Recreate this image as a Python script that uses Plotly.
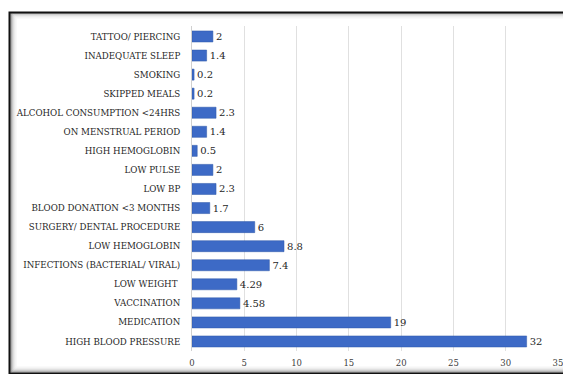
import plotly.graph_objects as go

categories = [
    "TATTOO/ PIERCING", "INADEQUATE SLEEP", "SMOKING", "SKIPPED MEALS",
    "ALCOHOL CONSUMPTION <24HRS", "ON MENSTRUAL PERIOD", "HIGH HEMOGLOBIN",
    "LOW PULSE", "LOW BP", "BLOOD DONATION <3 MONTHS",
    "SURGERY/ DENTAL PROCEDURE", "LOW HEMOGLOBIN",
    "INFECTIONS (BACTERIAL/ VIRAL)", "LOW WEIGHT ", "VACCINATION",
    "MEDICATION", "HIGH BLOOD PRESSURE",
]
values = [2, 1.4, 0.2, 0.2, 2.3, 1.4, 0.5, 2, 2.3, 1.7, 6, 8.8, 7.4, 4.29, 4.58, 19, 32]
value_labels = ["2", "1.4", "0.2", "0.2", "2.3", "1.4", "0.5", "2", "2.3", "1.7",
                "6", "8.8", "7.4", "4.29", "4.58", "19", "32"]
x_ticks = [0, 5, 10, 15, 20, 25, 30, 35]

SERIF = "DejaVu Serif"

W, H = 563, 374
L, R, T, B = 192, 5, 26, 23
pw, ph = W - L - R, H - T - B

def px(x):
    return (x - L) / pw

def py(y):
    return (H - B - y) / ph

fig = go.Figure()
fig.add_trace(go.Bar(
    y=categories, x=values, orientation="h",
    marker=dict(color="#3d6ac6", line=dict(color="#2f58a8", width=0.5)),
    width=0.58,
    text=value_labels, textposition="outside", constraintext="none",
    textfont=dict(family=SERIF, size=10, color="#262626"),
    cliponaxis=False,
))

shapes = []
for i, c in enumerate(["#7a7a7a", "#a8a8a8", "#c8c8c8", "#dedede", "#ececec", "#f5f5f5"]):
    off = 11 + i
    shapes.append(dict(type="rect", xref="paper", yref="paper",
                       x0=px(off), x1=px(W + 20), y0=py(off + 2), y1=py(H - 2 - i),
                       line=dict(color=c, width=1.2), fillcolor="rgba(0,0,0,0)", layer="below"))
shapes.append(dict(type="rect", xref="paper", yref="paper",
                   x0=px(9.5), x1=px(W + 20), y0=py(12.5), y1=py(H - 0.5),
                   line=dict(color="#111111", width=2), fillcolor="rgba(0,0,0,0)", layer="below"))

fig.update_layout(
    width=W, height=H,
    margin=dict(l=L, r=R, t=T, b=B, pad=0, autoexpand=False),
    paper_bgcolor="white", plot_bgcolor="white",
    showlegend=False,
    shapes=shapes,
    font=dict(family=SERIF, color="#333333"),
    bargap=0.4,
)
fig.update_xaxes(
    range=[0, 35], tickvals=x_ticks, ticktext=[str(v) for v in x_ticks],
    showgrid=True, gridcolor="#e0e0e0", gridwidth=1,
    zeroline=False, showline=False, automargin=False,
    tickfont=dict(family=SERIF, size=8.5, color="#404040"),
    ticks="", ticklabelstandoff=5, ticklabeloverflow="allow",
)
fig.update_yaxes(
    categoryorder="array", categoryarray=categories[::-1],
    range=[-0.5, 16.55], automargin=False,
    showgrid=False, zeroline=False,
    showline=True, linecolor="#d0d0d0", linewidth=1,
    tickfont=dict(family=SERIF, size=8.7, color="#262626"),
    ticks="", ticklabelstandoff=9,
)

fig.write_html("out.html")
